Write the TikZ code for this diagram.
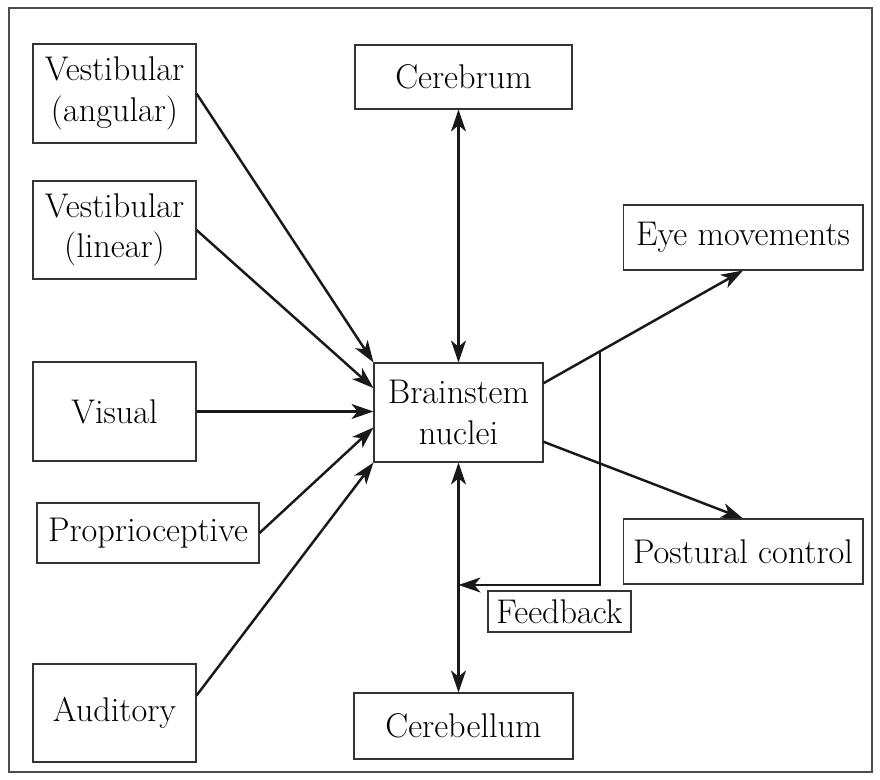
\documentclass[tikz,border=0pt]{standalone}
\usepackage{tikz}
\usetikzlibrary{arrows.meta, calc}

\begin{document}
\begin{tikzpicture}[x=0.02cm, y=-0.02cm, >={Stealth[length=12.5pt,width=8.5pt,inset=3.5pt]}, align=center,
  box/.style={draw=black!80, line width=0.6pt, font=\fontsize{19.5}{23}\selectfont, inner sep=2pt},
  link/.style={line width=1.4pt, black!90}]
\useasboundingbox (0,0) rectangle (880,780);
\draw[black!70, line width=0.6pt] (9,8) rectangle (872,772);
% inputs
\node[box, minimum width=3.26cm, minimum height=1.98cm] at (114.5,93.5) (ang) {Vestibular\\(angular)};
\node[box, minimum width=3.26cm, minimum height=1.96cm] at (114.5,230) (lin) {Vestibular\\(linear)};
\node[box, minimum width=3.26cm, minimum height=1.98cm] at (114.5,411.5) (vis) {Visual};
\node[box, minimum width=4.44cm, minimum height=1.2cm] at (148,533) (prop) {Proprioceptive};
\node[box, minimum width=3.26cm, minimum height=1.96cm] at (114.5,713) (aud) {Auditory};
% centre and outputs
\node[box, minimum width=3.38cm, minimum height=1.98cm] at (458.5,412.5) (bs) {Brainstem\\nuclei};
\node[box, minimum width=4.34cm, minimum height=1.28cm] at (463.5,77) (cbr) {Cerebrum};
\node[box, minimum width=4.38cm, minimum height=1.32cm] at (463.5,726) (cbl) {Cerebellum};
\node[box, minimum width=4.8cm, minimum height=1.3cm] at (743,237.5) (eye) {Eye movements};
\node[box, minimum width=4.8cm, minimum height=1.3cm] at (743,551.5) (post) {Postural control};
\node[box, minimum width=2.86cm, minimum height=0.82cm, inner sep=1pt] at (559.5,611.5) (fb) {Feedback};
\draw[link, ->] (ang.east) -- (bs.north west);
\draw[link, ->] (lin.east) -- (bs.164);
\draw[link, ->] (vis.east) -- (vis.east -| bs.west);
\draw[link, ->] (prop.east) -- (bs.190);
\draw[link, ->] (aud.12) -- (bs.south west);
\draw[link, <->] (bs.north) -- (bs.north |- cbr.south);
\draw[link, <->] (bs.south) -- (bs.south |- cbl.north);
\draw[link, ->] (bs.19) -- (eye.south);
\draw[link, ->] (bs.341) -- (post.north);
% feedback loop
\coordinate (fbtop) at ($(bs.19)!0.284!(eye.south)$);
\coordinate (fbend) at (bs.south |- 0,585);
\draw[link, ->] (fbtop) |- (fbend);
\end{tikzpicture}
\end{document}
